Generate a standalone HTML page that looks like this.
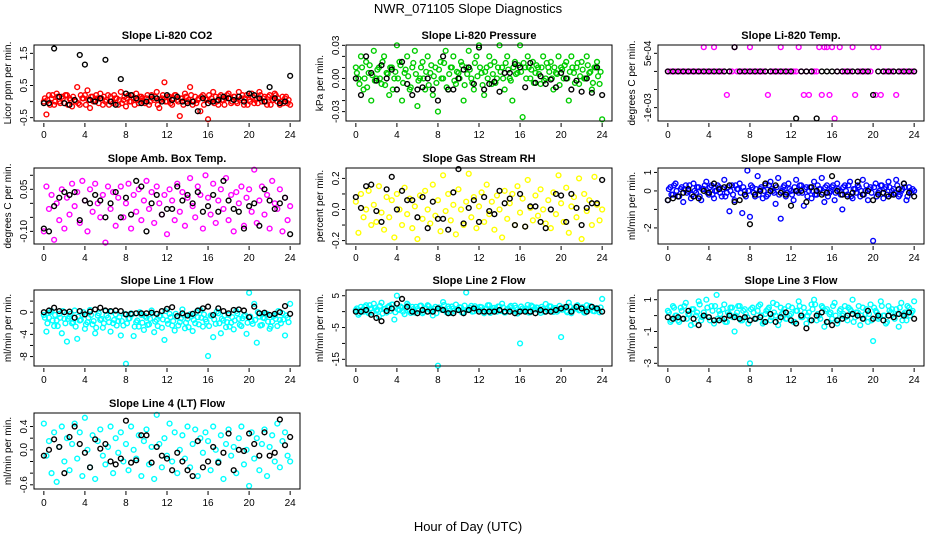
<!DOCTYPE html>
<html><head><meta charset="utf-8">
<style>
html,body{margin:0;padding:0;background:#fff;}
svg{display:block;font-family:"Liberation Sans",sans-serif;}
</style></head>
<body>
<svg id="fig" width="936" height="540" viewBox="0 0 936 540">
<text x="468" y="13" text-anchor="middle" font-size="13">NWR_071105  Slope Diagnostics</text>
<text x="468" y="531" text-anchor="middle" font-size="13">Hour of Day (UTC)</text>
</svg>
<script>
const hours = [0,0.25,0.5,0.75,1,1.25,1.5,1.75,2,2.25,2.5,2.75,3,3.25,3.5,3.75,4,4.25,4.5,4.75,5,5.25,5.5,5.75,6,6.25,6.5,6.75,7,7.25,7.5,7.75,8,8.25,8.5,8.75,9,9.25,9.5,9.75,10,10.25,10.5,10.75,11,11.25,11.5,11.75,12,12.25,12.5,12.75,13,13.25,13.5,13.75,14,14.25,14.5,14.75,15,15.25,15.5,15.75,16,16.25,16.5,16.75,17,17.25,17.5,17.75,18,18.25,18.5,18.75,19,19.25,19.5,19.75,20,20.25,20.5,20.75,21,21.25,21.5,21.75,22,22.25,22.5,22.75,23,23.25,23.5,23.75,24];
const hoursB = [0.1,0.35,0.6,0.85,1.1,1.35,1.6,1.85,2.1,2.35,2.6,2.85,3.1,3.35,3.6,3.85,4.1,4.35,4.6,4.85,5.1,5.35,5.6,5.85,6.1,6.35,6.6,6.85,7.1,7.35,7.6,7.85,8.1,8.35,8.6,8.85,9.1,9.35,9.6,9.85,10.1,10.35,10.6,10.85,11.1,11.35,11.6,11.85,12.1,12.35,12.6,12.85,13.1,13.35,13.6,13.85,14.1,14.35,14.6,14.85,15.1,15.35,15.6,15.85,16.1,16.35,16.6,16.85,17.1,17.35,17.6,17.85,18.1,18.35,18.6,18.85,19.1,19.35,19.6,19.85,20.1,20.35,20.6,20.85,21.1,21.35,21.6,21.85,22.1,22.35,22.6,22.85,23.1,23.35,23.6,23.85];
const blackHours = [0,0.5,1,1.5,2,2.5,3,3.5,4,4.5,5,5.5,6,6.5,7,7.5,8,8.5,9,9.5,10,10.5,11,11.5,12,12.5,13,13.5,14,14.5,15,15.5,16,16.5,17,17.5,18,18.5,19,19.5,20,20.5,21,21.5,22,22.5,23,23.5,24];
const xTicks = [0,4,8,12,16,20,24];
const titles = ["Slope Li-820 CO2","Slope Li-820 Pressure","Slope Li-820 Temp.","Slope Amb. Box Temp.","Slope Gas Stream RH","Slope Sample Flow","Slope Line 1 Flow","Slope Line 2 Flow","Slope Line 3 Flow","Slope Line 4 (LT) Flow"];
const yTitles = ["Licor ppm per min.","kPa per min.","degrees C per min.","degrees C per min.","percent per min.","ml/min per min.","ml/min per min.","ml/min per min.","ml/min per min.","ml/min per min."];
const seriesColors = ["#ff0000","#00cc00","#ff00ff","#ff00ff","#ffff00","#0000ff","#00ffff","#00ffff","#00ffff","#00ffff"];
const yLimits = [[-0.604,1.76],[-0.0385,0.0303],[-0.00137,0.00073],[-0.145,0.126],[-0.222,0.267],[-2.87,1.24],[-9.7,4.0],[-17.1,6.8],[-3.17,1.61],[-0.672,0.632]];
const yTicks = [[-0.5,0,0.5,1,1.5],[-0.03,-0.02,-0.01,0,0.01,0.02,0.03],[-0.001,-0.0005,0,0.0005],[-0.1,-0.05,0,0.05,0.1],[-0.2,-0.1,0,0.1,0.2],[-2,-1,0,1],[-8,-6,-4,-2,0,2],[-15,-10,-5,0,5],[-3,-2,-1,0,1],[-0.6,-0.4,-0.2,0,0.2,0.4]];
const yTickLabels = [["-0.5","","0.5","","1.5"],["-0.03","","","0.00","","","0.03"],["-1e-03","","","5e-04"],["-0.10","","","0.05",""],["-0.2","","0.0","","0.2"],["-2","","0","1"],["-8","","-4","","0",""],["-15","","-5","","5"],["-3","","-1","","1"],["-0.6","","","0.0","","0.4"]];
const H=0.00067, L=-0.00065;
const colorVals = [
[0.0,-0.4,0.2,0.1,-0.1,0.25,0.0,0.15,-0.05,0.2,0.1,-0.15,0.05,0.45,-0.1,0.1,
0.2,0.35,-0.2,0.15,0.05,0.1,0.25,-0.1,0.0,0.2,0.15,-0.05,0.1,-0.1,0.3,0.05,
-0.15,0.2,0.0,0.1,0.25,-0.05,0.15,0.0,0.1,-0.1,0.2,0.05,0.3,-0.2,0.1,0.6,
0.0,0.15,-0.1,0.2,0.05,-0.45,0.1,0.25,0.0,0.45,-0.1,0.15,0.05,-0.3,0.2,0.1,
-0.55,0.0,0.3,0.15,-0.1,0.2,0.05,0.1,0.25,-0.05,0.15,0.0,0.3,0.1,-0.1,0.2,
0.05,0.25,-0.05,0.1,0.3,0.0,0.15,-0.1,0.2,0.05,0.25,0.0,-0.1,0.15,0.1,-0.05,-0.1],
[0.01,0.0,0.02,-0.01,0.015,0.005,-0.02,0.025,0.0,0.01,-0.005,0.02,0.005,-0.015,0.01,0.0,
0.03,0.015,-0.02,0.005,0.02,-0.01,0.01,0.025,-0.025,0.0,0.015,-0.01,0.02,0.005,-0.015,0.01,
-0.03,0.015,0.0,0.025,-0.01,0.01,0.02,-0.005,0.005,0.015,-0.02,0.01,0.025,0.0,-0.01,0.02,
0.03,0.005,-0.015,0.01,0.02,-0.005,0.015,0.0,0.03,0.01,-0.01,0.02,0.0,-0.02,0.015,0.005,
0.03,-0.035,0.01,0.02,0.0,0.015,0.005,0.01,-0.005,0.02,0.0,0.01,0.015,-0.01,0.005,0.02,
0.01,0.0,0.015,-0.02,0.02,0.005,0.01,-0.005,0.015,0.0,0.02,0.005,-0.01,0.01,0.015,-0.005,-0.037],
[0,0,0,0,0,0,0,0,0,0,0,0,0,0,H,0,
0,0,H,0,0,0,0,L,0,0,H,0,0,0,0,0,
H,0,0,0,0,0,0,L,0,0,0,0,H,0,0,0,
0,0,0,H,0,L,0,L,0,0,0,H,L,H,H,L,
H,-0.0013,0,H,0,0,0,0,H,L,0,0,0,0,0,0,
H,L,H,L,0,0,0,0,0,L,0,0,0,0,0,0,0],
[-0.1,0.06,-0.02,0.03,-0.13,0.0,-0.06,0.05,-0.09,0.02,-0.04,0.07,-0.01,0.04,-0.07,0.08,
0.01,-0.1,0.05,-0.03,0.07,0.0,-0.05,0.03,-0.14,0.06,-0.02,0.04,-0.08,0.02,0.06,-0.05,
0.0,0.07,-0.09,0.03,-0.03,0.05,-0.06,0.01,0.08,-0.02,0.04,-0.07,0.06,0.0,-0.04,0.03,
-0.11,0.05,0.01,-0.06,0.07,-0.03,0.04,-0.08,0.02,0.09,-0.01,-0.05,0.06,0.03,-0.09,0.1,
0.02,-0.04,0.07,-0.07,0.01,0.05,-0.02,0.09,-0.06,0.03,-0.1,0.04,0.0,0.06,-0.08,0.02,
0.05,-0.03,0.12,-0.07,0.01,0.06,-0.04,0.03,-0.09,0.08,0.0,-0.02,0.05,-0.1,0.02,-0.06,-0.01],
[0.05,-0.15,0.1,-0.05,0.0,0.12,-0.1,0.03,-0.08,0.15,-0.02,-0.13,0.08,-0.05,0.06,-0.18,
0.1,0.0,-0.1,0.14,-0.03,0.07,-0.12,0.02,-0.19,0.09,-0.06,0.12,0.0,-0.09,0.16,-0.04,
0.06,-0.14,0.22,-0.01,0.1,-0.07,0.03,-0.16,0.13,0.0,-0.1,0.05,0.23,-0.05,0.08,-0.12,
0.02,0.11,-0.08,0.16,-0.03,0.05,-0.13,0.09,0.0,-0.18,0.12,-0.06,0.04,0.1,-0.1,0.15,
-0.02,0.07,-0.11,0.19,0.01,-0.07,0.09,-0.04,0.13,0.0,-0.09,0.06,-0.12,0.11,-0.03,0.22,
0.04,-0.08,0.14,-0.15,0.02,0.08,-0.05,0.2,-0.19,0.1,-0.01,0.06,-0.1,0.21,0.03,-0.07,0.0],
[-0.5,0.2,-0.2,0.4,-0.3,0.1,-0.6,0.3,0.0,-0.4,0.4,-0.1,0.2,-0.5,0.1,0.5,
-0.2,0.3,-0.4,0.0,0.2,-0.3,0.6,-0.1,-1.1,0.3,-0.5,0.1,0.4,-1.2,0.0,1.1,
-1.4,0.2,-0.3,0.8,0.1,-0.4,0.3,-0.2,0.5,0.0,-0.7,0.7,-1.5,0.2,-0.3,0.4,
0.0,-0.5,0.6,-0.1,0.3,-0.8,0.2,0.0,-0.4,0.5,-0.2,0.1,0.7,-0.6,0.3,-0.1,
0.2,-0.5,0.4,0.0,-1.0,0.3,-0.2,0.5,-0.4,0.1,0.3,-0.3,0.6,0.0,-0.5,0.2,
-2.7,0.4,-0.1,0.3,-0.4,0.2,0.5,-0.2,0.1,0.6,-0.3,0.0,0.4,-0.5,0.2,-0.1,0.0],
[-0.5,-3.5,-1.0,0.2,-2.5,-1.5,-0.3,-3.8,-1.2,-5.3,-0.8,-2.0,0.3,-4.8,-1.5,-0.5,
-3.0,-1.8,0.4,-2.2,-3.8,-0.6,-1.4,-2.8,0.2,-1.0,-3.5,-2.0,-0.4,-1.6,-4.2,-2.4,
-9.3,-1.2,-0.2,-4.3,-1.8,-2.6,-0.5,-3.2,-1.0,-2.2,0.3,-3.6,-1.4,-0.7,-2.8,-5.0,
-1.5,-0.3,-2.4,-3.3,-0.8,-1.8,0.5,-2.9,-1.2,-0.4,-3.4,-2.0,-0.9,0.4,-2.6,-1.3,
-7.9,-0.6,-4.5,-2.1,-0.2,-3.8,-1.5,-2.7,-0.5,-1.9,-3.1,0.2,-1.2,-2.5,-0.7,-3.9,
3.5,-1.6,1.5,-5.5,-0.8,-2.3,-1.1,-0.3,-3.0,-1.7,-0.6,-2.5,-1.4,-0.2,-4.2,-1.0,1.5],
[0.5,-1.0,1.5,0.0,2.0,-0.5,1.0,2.5,0.3,-1.5,2.8,0.8,-0.3,1.8,2.2,-2.5,
5.0,0.5,1.2,-0.8,2.5,0.2,1.5,-0.3,0.8,1.8,-0.5,1.0,2.0,0.4,-1.2,1.5,
-17.0,0.8,3.0,0.3,1.6,-0.4,1.0,2.2,0.5,1.3,-0.2,6.0,0.7,1.8,0.1,1.1,
0.6,1.4,-0.5,0.9,2.0,0.3,1.2,0.0,1.6,2.5,-0.3,0.8,1.4,0.2,1.9,-0.6,
-10.0,1.0,0.4,2.1,-0.2,1.5,0.7,1.2,-0.4,0.9,2.4,0.3,1.6,-0.1,1.1,0.5,
-8.0,1.3,0.2,2.8,-0.5,1.0,1.8,0.4,1.2,-0.3,2.0,0.6,1.5,0.1,0.9,-0.2,4.0],
[0.3,-0.4,0.6,0.0,-0.3,0.5,-0.2,0.8,0.1,-0.6,0.4,0.0,0.9,-0.3,0.2,1.0,
-0.1,0.6,-0.5,1.3,0.3,-0.2,0.7,-0.4,0.1,0.5,-1.0,0.2,0.6,-0.3,0.4,-0.1,
-3.0,0.5,-0.2,0.3,0.7,-0.5,0.1,0.4,-0.3,0.8,0.0,-0.6,0.5,0.2,-0.2,0.6,
0.1,-0.4,0.3,0.9,-0.1,0.5,-0.5,0.2,0.7,1.0,-0.3,0.0,0.6,-0.7,0.4,0.1,
-0.2,0.8,-0.5,0.3,0.0,0.6,-0.3,0.4,1.0,-0.1,0.2,-0.6,0.5,0.1,-0.4,0.7,
-1.6,0.3,-0.2,0.9,0.0,-0.5,0.6,0.2,-0.1,0.4,-0.7,0.8,0.1,-0.3,0.5,0.2,0.9],
[0.45,-0.1,0.15,-0.4,0.3,-0.55,0.05,0.4,-0.2,0.2,-0.35,0.1,0.45,-0.15,0.3,-0.45,
0.55,0.0,-0.3,0.25,-0.5,0.15,0.35,-0.1,-0.25,0.05,0.4,-0.4,0.2,-0.05,0.3,-0.2,
0.1,-0.35,0.4,0.0,-0.15,0.25,-0.45,0.15,0.35,-0.25,0.05,-0.5,0.6,0.1,-0.3,0.2,
-0.1,0.45,-0.2,0.3,-0.4,0.0,0.25,-0.15,0.4,-0.3,0.1,0.35,-0.45,0.2,-0.05,0.3,
0.15,-0.35,0.4,0.0,-0.2,0.25,-0.5,0.1,0.35,-0.1,0.05,-0.4,0.2,0.4,-0.25,0.0,
-0.62,0.3,-0.15,0.2,-0.35,0.1,0.35,-0.45,0.05,0.25,-0.2,0.45,-0.3,0.15,0.3,-0.1,-0.2]
];
const colorVals2 = [
[0.1,0.05,-0.1,0.2,0.0,0.15,-0.05,0.1,0.2,-0.1,0.05,0.15,0.0,-0.05,0.2,0.1,
-0.1,0.05,0.15,0.0,0.2,-0.05,0.1,0.15,0.05,-0.1,0.0,0.2,0.1,0.05,-0.05,0.15,
0.1,0.0,0.2,-0.1,0.05,0.15,0.1,-0.05,0.2,0.0,0.1,0.15,-0.1,0.05,0.2,0.0,
0.15,-0.05,0.1,0.2,0.0,0.1,-0.1,0.15,0.05,0.2,0.0,-0.05,0.1,0.15,-0.1,0.05,
0.2,0.1,-0.05,0.0,0.15,0.05,-0.1,0.2,0.1,0.0,0.15,-0.05,0.05,0.2,0.1,-0.1,
0.0,0.15,0.05,-0.05,0.2,0.1,0.0,0.15,-0.1,0.05,0.2,0.1,0.0,-0.05,0.15,0.05],
[0.005,-0.005,0.01,0.0,-0.008,0.012,0.003,-0.002,0.008,0.0,0.015,-0.006,0.004,0.01,-0.01,0.006,
0.0,0.012,-0.004,0.008,0.002,-0.008,0.014,0.004,-0.002,0.01,0.0,0.006,-0.006,0.012,0.002,-0.004,
0.008,0.0,0.014,-0.008,0.004,0.01,-0.002,0.006,0.0,0.012,-0.006,0.004,0.008,-0.004,0.014,0.002,
0.01,-0.006,0.006,0.0,0.012,0.004,-0.004,0.01,0.006,0.0,0.014,0.008,-0.002,0.01,0.004,0.012,
0.006,0.014,0.0,0.01,0.008,-0.004,0.012,0.004,0.01,-0.002,0.014,0.006,0.0,0.01,0.004,-0.006,
0.008,0.012,0.0,0.006,0.01,-0.004,0.014,0.002,0.008,0.0,0.012,0.006,-0.004,0.01,0.002,0.006],
null,null,null,
[0.1,-0.2,0.3,0.0,-0.3,0.2,0.1,-0.1,0.3,-0.2,0.0,0.2,-0.3,0.1,0.3,-0.1,
0.2,-0.2,0.0,0.3,-0.1,0.1,-0.3,0.2,0.0,-0.2,0.3,0.1,-0.1,0.2,-0.3,0.0,
0.3,-0.1,0.1,-0.2,0.2,0.0,-0.3,0.3,0.1,-0.1,0.2,-0.2,0.0,0.3,-0.1,0.1,
-0.2,0.2,0.0,0.3,-0.1,0.1,-0.3,0.2,0.0,-0.2,0.3,0.1,-0.1,0.2,-0.3,0.0,
0.3,-0.1,0.1,-0.2,0.2,0.0,0.3,-0.3,0.1,-0.1,0.2,0.0,-0.2,0.3,0.1,-0.1,
0.2,-0.3,0.0,0.3,0.1,-0.2,0.2,0.0,-0.1,0.3,-0.2,0.1,0.2,-0.3,0.0,0.1],
[-1.0,-2.0,0.0,-1.5,-0.5,-2.5,-1.0,0.2,-2.0,-1.2,-0.3,-1.8,-2.6,-0.8,-1.4,0.0,
-2.2,-1.0,-0.5,-1.6,-2.8,-0.2,-1.2,-2.0,-0.6,-1.8,0.1,-1.4,-2.4,-0.9,-1.6,-0.3,
-2.0,-1.1,-0.4,-2.6,-1.5,0.0,-1.9,-0.7,-2.3,-1.2,-0.2,-1.7,-2.5,-0.6,-1.3,0.2,
-2.1,-0.9,-1.6,-0.3,-2.4,-1.1,-0.5,-1.9,-2.7,-0.8,-1.4,0.0,-2.2,-1.0,-0.4,-1.7,
-2.5,-0.7,-1.3,0.1,-2.0,-1.2,-0.6,-1.8,-2.6,-0.9,-1.5,-0.2,-2.3,-1.1,-0.5,-1.9,
-0.8,-2.1,-1.4,0.0,-2.4,-1.0,-0.3,-1.7,-2.6,-0.7,-1.2,0.2,-2.0,-1.3,-0.6,-1.8],
[1.0,-0.5,0.5,1.5,0.0,2.0,-0.3,1.2,0.6,1.8,-0.6,0.9,1.4,0.2,2.2,-0.2,
0.7,1.6,0.0,1.1,2.0,-0.4,0.8,1.5,0.3,1.9,-0.1,1.0,1.7,0.4,0.9,-0.5,
1.3,0.6,2.1,-0.2,1.0,1.6,0.2,0.8,1.4,-0.3,1.9,0.5,1.2,0.0,1.7,0.9,
1.5,0.1,0.8,2.0,-0.4,1.1,0.6,1.6,0.2,1.3,-0.2,0.9,1.8,0.4,1.2,0.0,
1.6,0.5,1.0,-0.3,1.9,0.7,1.3,0.2,1.5,-0.1,0.9,1.7,0.4,1.1,0.0,1.8,
0.6,1.2,-0.2,1.6,0.3,1.0,2.0,0.5,1.4,-0.3,0.8,1.7,0.2,1.1,0.6,1.3],
[0.2,-0.3,0.5,0.0,-0.4,0.3,0.6,-0.2,0.1,0.4,-0.5,0.2,0.7,-0.1,0.0,0.5,
-0.3,0.3,0.6,-0.2,0.1,0.4,-0.4,0.2,0.5,-0.1,0.0,0.6,-0.3,0.3,0.1,-0.5,
0.4,0.2,-0.2,0.6,0.0,-0.4,0.3,0.5,-0.1,0.2,0.7,-0.3,0.1,0.4,-0.2,0.0,
0.5,-0.4,0.3,0.6,-0.1,0.2,0.0,-0.3,0.4,0.7,0.1,-0.2,0.5,0.3,-0.4,0.2,
0.6,0.0,-0.3,0.4,0.1,-0.1,0.5,0.3,-0.4,0.2,0.6,0.0,-0.2,0.4,0.1,-0.3,
0.5,0.2,-0.1,0.6,0.0,-0.4,0.3,0.4,-0.2,0.1,0.5,-0.3,0.2,0.6,0.0,0.3],
null
];
const blackVals = [
[-0.05,-0.05,1.65,0.15,-0.05,-0.1,0.05,1.45,1.15,0.05,0.0,0.1,1.3,0.0,-0.1,0.7,0.25,0.2,0.1,-0.05,0.0,0.15,0.1,0.0,0.2,0.05,0.15,0.0,-0.05,0.0,-0.3,0.1,-0.05,0.0,0.05,0.15,0.1,0.05,0.15,0.0,0.25,0.2,0.1,0.0,0.45,0.1,-0.05,0.0,0.8],
[0.0,-0.015,0.02,0.005,-0.002,0.012,0.0,0.008,-0.01,0.015,-0.005,-0.015,-0.01,-0.008,0.0,-0.01,-0.02,0.02,-0.01,-0.01,0.0,0.008,0.01,-0.005,0.028,-0.01,-0.005,-0.003,-0.012,0.005,0.005,0.013,0.01,-0.008,0.014,-0.004,0.002,-0.005,-0.001,-0.008,0.005,0.0,-0.01,-0.002,-0.012,0.0,-0.013,0.01,-0.015],
[0,0,0,0,0,0,0,0,0,0,0,0,0,H,0,0,0,0,0,0,0,0,0,0,0,-0.0013,0,0,0,-0.0013,0,0,0,0,0,0,0,0,0,0,L,0,0,0,0,0,0,0,0],
[-0.09,-0.1,-0.01,0.02,0.04,0.03,0.04,-0.06,0.01,0.0,0.03,0.01,-0.05,0.0,0.04,-0.05,0.02,-0.04,0.08,0.06,-0.1,0.0,0.03,-0.04,-0.02,-0.02,0.06,0.01,0.03,0.0,0.04,-0.03,-0.01,0.03,-0.03,0.08,0.01,-0.02,-0.03,-0.09,-0.01,0.0,-0.08,0.05,0.01,-0.02,0.0,0.02,-0.11],
[0.08,0.01,0.15,0.16,-0.01,-0.08,0.13,0.21,0.0,0.12,0.06,0.06,-0.05,0.08,-0.12,0.05,-0.06,-0.06,-0.13,0.11,0.26,-0.09,0.01,0.06,-0.08,0.08,-0.01,-0.03,0.12,0.04,0.07,-0.1,0.1,-0.11,0.02,0.02,-0.08,-0.12,0.0,0.1,0.09,-0.08,0.1,0.01,-0.1,0.01,0.04,0.04,0.19],
[-0.5,-0.4,-0.3,-0.1,0.1,-0.3,-0.4,0.0,-0.1,0.4,0.1,0.2,0.3,-0.6,-0.5,-0.2,-1.8,-0.2,0.0,0.4,0.0,0.3,-0.1,-0.2,-0.8,0.0,0.0,-0.6,0.2,0.0,-0.2,-0.1,0.8,0.0,-0.2,-0.3,-0.1,0.5,-0.2,0.0,-0.5,-0.2,-0.1,-0.3,-0.2,0.1,0.4,-0.1,-0.3],
[0.0,0.3,0.8,0.2,0.0,0.1,-1.0,0.2,-0.4,0.1,0.5,0.8,0.3,0.2,0.3,0.2,-0.4,-0.3,-0.2,-0.2,-0.2,-0.1,-0.3,0.2,0.6,0.9,-0.7,-0.2,-0.6,-0.3,0.3,0.7,1.0,-0.5,0.7,0.2,-0.2,0.4,0.5,0.3,-0.9,1.0,-0.2,-0.1,-0.5,-0.3,0.0,1.1,-0.3],
[0.0,0.0,0.5,-1.0,-2.0,-3.0,0.2,1.0,2.5,4.0,1.5,0.0,-0.5,0.5,0.0,0.0,1.0,0.5,-0.5,-0.5,0.5,-0.5,0.5,1.0,0.0,0.0,0.0,0.0,0.5,0.0,0.0,-0.5,0.0,0.0,0.0,-0.5,0.5,0.0,0.0,0.5,1.0,1.5,0.0,1.5,1.0,0.0,1.5,1.0,0.0],
[-0.1,-0.2,-0.1,-0.2,0.3,-0.2,-0.6,0.0,-0.1,-0.3,-0.3,-0.2,0.0,-0.1,-0.2,-0.1,-0.3,-0.2,-0.1,-0.4,0.1,-0.4,-0.1,0.2,-0.3,-0.5,0.0,-0.8,-0.3,0.0,0.2,-0.4,-0.6,-0.3,-0.2,0.0,0.1,0.0,-0.2,0.3,-0.2,0.0,-0.3,0.0,-0.1,0.1,0.0,0.2,-0.2],
[-0.1,0.0,0.18,0.05,-0.4,0.22,0.4,0.1,-0.05,-0.3,0.18,0.02,0.1,-0.2,-0.25,-0.15,0.5,-0.22,-0.18,0.25,0.25,-0.22,0.05,-0.1,-0.15,-0.35,-0.05,-0.2,-0.35,-0.45,0.15,-0.3,-0.2,0.05,-0.22,-0.05,0.28,-0.35,0.0,-0.02,0.28,0.1,-0.1,0.3,-0.1,-0.05,0.52,0.08,0.22]
];
const colX = [34,346,658], rowY = [45,168,290,413], PW = 266, PH = 76;
const NS = "http://www.w3.org/2000/svg";
const svg = document.getElementById('fig');
function mk(tag, attrs, parent){ const e=document.createElementNS(NS,tag); for(const k in attrs) e.setAttribute(k,attrs[k]); parent.appendChild(e); return e; }
for(let p=0;p<titles.length;p++){
  const bx = colX[p%3], by = rowY[Math.floor(p/3)];
  const [y0,y1] = yLimits[p];
  const sx = h => bx + (h + 0.96) / 25.92 * PW;
  const sy = v => by + PH - (v - y0) / (y1 - y0) * PH;
  const g = mk('g',{},svg);
  
  
  const t = mk('text',{x:bx+PW/2,y:by-6,'text-anchor':'middle','font-size':11,'font-weight':'bold'},g);
  t.textContent = titles[p];
  
  
  const yt = mk('text',{x:0,y:0,'text-anchor':'middle','font-size':10,transform:`translate(${bx-23},${by+PH/2}) rotate(-90)`},g);
  yt.textContent = yTitles[p];
  
  
  const pts = mk('g',{fill:'none','stroke-width':1.4},g);
  
  
  if(colorVals2[p]) colorVals2[p].forEach((v,i)=>{
    const c = mk('circle',{cx:sx(hoursB[i]),cy:sy(v),r:2.4,stroke:seriesColors[p]},pts);
    
    
  });
  colorVals[p].forEach((v,i)=>{
    const c = mk('circle',{cx:sx(hours[i]),cy:sy(v),r:2.4,stroke:seriesColors[p]},pts);
    
    
  });
  blackVals[p].forEach((v,i)=>{
    const c = mk('circle',{cx:sx(blackHours[i]),cy:sy(v),r:2.4,stroke:'#000'},pts);
    
    
  });
  const box = mk('rect',{x:bx,y:by,width:PW,height:PH,fill:'none',stroke:'#000','stroke-width':1},g);
  
  
  xTicks.forEach(h=>{
    mk('line',{x1:sx(h),x2:sx(h),y1:by+PH+2,y2:by+PH+6,stroke:'#000'},g);
    const tl = mk('text',{x:sx(h),y:by+PH+17,'text-anchor':'middle','font-size':10},g);
    tl.textContent = h;
    
    
  });
  yTicks[p].forEach((v,i)=>{
    mk('line',{x1:bx-4,x2:bx-1,y1:sy(v),y2:sy(v),stroke:'#000'},g);
    if(yTickLabels[p][i]){
      const tl = mk('text',{x:0,y:0,'text-anchor':'middle','font-size':10,transform:`translate(${bx-7},${sy(v)}) rotate(-90)`},g);
      tl.textContent = yTickLabels[p][i];
      
      
    }
  });
}
</script>
</body></html>
